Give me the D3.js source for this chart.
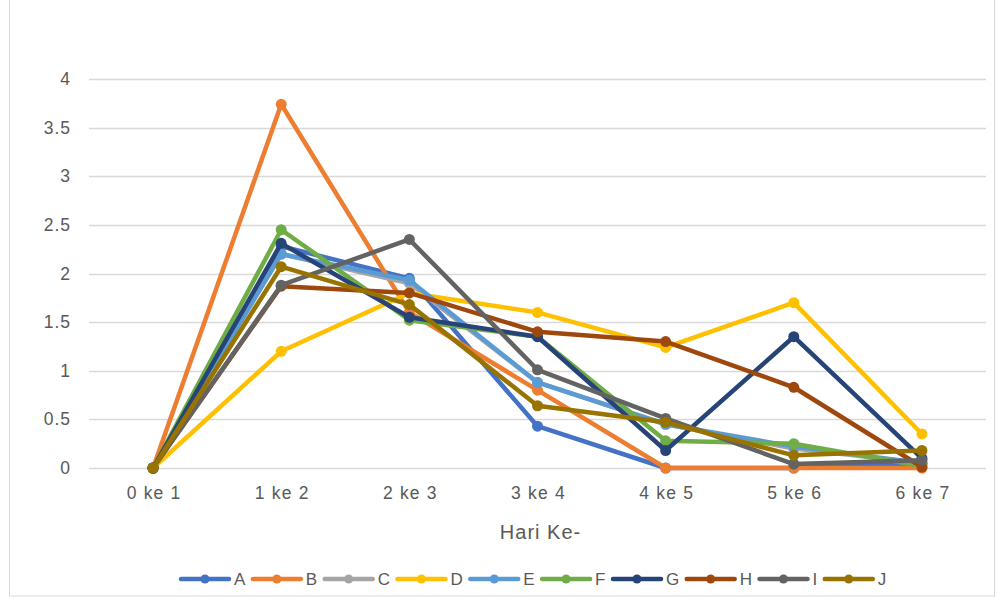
<!DOCTYPE html>
<html>
<head>
<meta charset="utf-8">
<script src="https://cdn.jsdelivr.net/npm/d3@7/dist/d3.min.js"></script>
<style>
  html, body { margin: 0; padding: 0; background: #fff; }
  svg { display: block; }
  text { font-family: "Liberation Sans", "Noto Sans", sans-serif; fill: #595959; }
</style>
</head>
<body>
<svg id="chart" width="1000" height="597"></svg>
<script>
// Categories on the x axis (day intervals)
const categories = ["0 ke 1", "1 ke 2", "2 ke 3", "3 ke 4", "4 ke 5", "5 ke 6", "6 ke 7"];
const yTicks = [0, 0.5, 1, 1.5, 2, 2.5, 3, 3.5, 4];

// One series per sample
const seriesNames = ["A", "B", "C", "D", "E", "F", "G", "H", "I", "J"];
const A = [0, 2.28, 1.95, 0.43, 0, 0, 0.05];
const B = [0, 3.74, 1.6, 0.8, 0, 0, 0];
const C = [0, 2.2, 1.9, 0.88, 0.45, 0.2, 0.05];
const D = [0, 1.2, 1.8, 1.6, 1.24, 1.7, 0.35];
const E = [0, 2.2, 1.93, 0.88, 0.45, 0.22, 0.05];
const F = [0, 2.45, 1.52, 1.35, 0.28, 0.25, 0.02];
const G = [0, 2.31, 1.55, 1.35, 0.18, 1.35, 0.1];
const H = [0, 1.87, 1.8, 1.4, 1.3, 0.83, 0.01];
const I = [0, 1.88, 2.35, 1.01, 0.51, 0.04, 0.08];
const J = [0, 2.07, 1.68, 0.64, 0.47, 0.13, 0.18];
const seriesValues = [A, B, C, D, E, F, G, H, I, J];
const colors = ["#4472C4", "#ED7D31", "#A5A5A5", "#FFC000", "#5B9BD5",
                "#70AD47", "#264478", "#9E480E", "#636363", "#997300"];

const svg = d3.select("#chart");
const labelFont = '"Liberation Sans", sans-serif';

// outer chart frame
svg.append("rect")
  .attr("x", 9.5).attr("y", -1).attr("width", 985).attr("height", 597)
  .attr("fill", "none").attr("stroke", "#d9d9d9").attr("stroke-width", 1);

const plot = { left: 89, right: 986, top: 79, bottom: 468 };

const x = d3.scaleBand().domain(categories).range([plot.left, plot.right]);
const y = d3.scaleLinear().domain([0, 4]).range([plot.bottom, plot.top]);
const cx = c => x(c) + x.bandwidth() / 2;

// horizontal gridlines
svg.append("g").selectAll("line").data(yTicks).join("line")
  .attr("x1", plot.left).attr("x2", plot.right)
  .attr("y1", d => Math.round(y(d)) + 0.5).attr("y2", d => Math.round(y(d)) + 0.5)
  .attr("stroke", "#d9d9d9").attr("stroke-width", 1.3);

// y axis labels
const yAxis = d3.axisLeft(y).tickValues(yTicks).tickSize(0).tickPadding(0)
  .tickFormat(d3.format("~g"));
const gy = svg.append("g").attr("transform", `translate(${plot.left - 18},0)`).call(yAxis);
gy.select(".domain").remove();
gy.selectAll("text").attr("font-size", 17.5).attr("fill", "#595959")
  .attr("letter-spacing", 1)
  .style("font-family", labelFont);

// x axis labels
const xAxis = d3.axisBottom(x).tickSize(0).tickPadding(0);
const gx = svg.append("g").attr("transform", `translate(0,${plot.bottom + 19})`).call(xAxis);
gx.select(".domain").remove();
gx.selectAll("text").attr("font-size", 17.5).attr("fill", "#595959")
  .attr("letter-spacing", 1.2).attr("dx", 1)
  .style("font-family", labelFont);

// x axis title
svg.append("text")
  .attr("x", (plot.left + plot.right) / 2 + 3).attr("y", 539)
  .attr("text-anchor", "middle").attr("font-size", 20)
  .attr("letter-spacing", 1)
  .text("Hari Ke-");

// series lines and markers
const line = d3.line().x((d, i) => cx(categories[i])).y(d => y(d));
const seriesG = svg.append("g");
seriesNames.forEach((name, k) => {
  const g = seriesG.append("g");
  g.append("path")
    .datum(seriesValues[k])
    .attr("d", line)
    .attr("fill", "none")
    .attr("stroke", colors[k])
    .attr("stroke-width", 4.5)
    .attr("stroke-linejoin", "round")
    .attr("stroke-linecap", "round");
  g.selectAll("circle").data(seriesValues[k]).join("circle")
    .attr("cx", (d, i) => cx(categories[i]))
    .attr("cy", d => y(d))
    .attr("r", 5.5)
    .attr("fill", colors[k]);
});

// legend: entries laid out left to right, each sized to its label
const legendY = 579;
const symbolLen = 48;
const legend = svg.append("g");
let lx = 181;
seriesNames.forEach((name, k) => {
  legend.append("line")
    .attr("x1", lx).attr("x2", lx + symbolLen)
    .attr("y1", legendY).attr("y2", legendY)
    .attr("stroke", colors[k]).attr("stroke-width", 4.5).attr("stroke-linecap", "round");
  legend.append("circle")
    .attr("cx", lx + symbolLen / 2).attr("cy", legendY).attr("r", 4.5).attr("fill", colors[k]);
  const t = legend.append("text")
    .attr("x", lx + symbolLen + 5).attr("y", legendY + 6)
    .attr("font-size", 17)
    .text(name);
  const tw = t.node().getComputedTextLength();
  lx += symbolLen + 5 + tw + 7.5;
});
</script>
</body>
</html>
